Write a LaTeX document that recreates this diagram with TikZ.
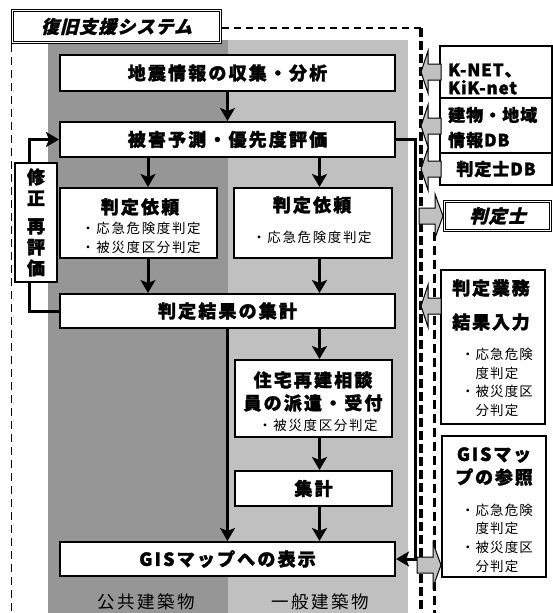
\documentclass[tikz,border=0pt]{standalone}
\usepackage{fontspec}
\setmainfont{Noto Sans CJK JP}[BoldFeatures={FakeBold=1.6}]
\newfontfamily\jpit{Noto Sans CJK JP}[FakeSlant=0.25, BoldFeatures={FakeBold=1.6}]
\usetikzlibrary{arrows.meta}
\definecolor{colA}{RGB}{150,150,150}
\definecolor{colB}{RGB}{192,192,192}
\newcommand{\jpB}{\fontsize{18}{21}\selectfont\bfseries\addfontfeature{LetterSpace=12}}
\newcommand{\jpT}{\jpit\fontsize{18}{21}\selectfont\bfseries\addfontfeature{LetterSpace=6}}
\newcommand{\jpS}{\fontsize{13.5}{19}\selectfont\addfontfeature{LetterSpace=12}}
\newcommand{\jpL}{\fontsize{17.5}{20}\selectfont\addfontfeature{LetterSpace=14}}
\newcommand{\jpK}{\fontsize{17}{18}\selectfont\bfseries\addfontfeature{LetterSpace=5}}
\begin{document}
\begin{tikzpicture}[x=1pt,y=-1pt,
  mainbox/.style={draw, line width=2pt, fill=white, inner sep=0pt},
  sidebox/.style={draw, line width=1.5pt, fill=white, inner sep=0pt},
  dblbox/.style={draw, line width=0.8pt, double=white, double distance=1.6pt, inner sep=0pt},
  arr/.style={line width=3pt, -{Stealth[length=13pt,width=15pt,inset=3pt]}},
  lbl/.style={inner sep=0pt},
  garrowL/.pic={\draw[line width=1pt, fill=colB] (0,0) -- (7,-21) -- (7,-8) -- (20,-8) -- (20,8) -- (7,8) -- (7,21) -- cycle;},
  garrowR/.pic={\draw[line width=1pt, fill=colB] (0,-8) -- (16,-8) -- (16,-22) -- (24,0) -- (16,22) -- (16,8) -- (0,8) -- cycle;}
]
\useasboundingbox (0,0) rectangle (553,613);
% columns
\fill[colA] (48,40) rectangle (228,613);
\fill[colB] (228,40) rectangle (408,613);
% dashed boundaries
\draw[line width=1pt, dash pattern=on 8pt off 5pt] (11,44) -- (11,613);
\draw[line width=1.5pt, dash pattern=on 7pt off 5pt] (222,28) -- (421,28);
\draw[line width=3.2pt, dash pattern=on 9pt off 4pt] (421,28) -- (421,613);
\draw[line width=2.2pt, dash pattern=on 9pt off 5pt] (434.5,232) -- (434.5,613);
% title
\node[dblbox, fill=white, minimum width=208pt, minimum height=32pt, font=\jpT] (title) at (116.5,26.5) {復旧支援システム};
% main flow boxes
\node[mainbox, minimum width=335pt, minimum height=36pt, font=\jpB] (quake) at (227.5,73) {地震情報の収集・分析};
\node[mainbox, minimum width=335pt, minimum height=35pt, font=\jpB] (damage) at (227.5,139.5) {被害予測・優先度評価};
\node[mainbox, minimum width=157pt, minimum height=70pt] (reqL) at (138.5,223) {};
\node[lbl, font=\jpB] (reqLt) at (140,207) {判定依頼};
\node[lbl, font=\jpS, align=left] (reqLs) at (141,237.5) {・応急危険度判定\\・被災度区分判定};
\node[mainbox, minimum width=158pt, minimum height=70pt] (reqR) at (313,223) {};
\node[lbl, font=\jpB] (reqRt) at (312,205) {判定依頼};
\node[lbl, font=\jpS] (reqRs) at (312,237) {・応急危険度判定};
\node[mainbox, minimum width=335pt, minimum height=34pt, font=\jpB] (agg) at (227.5,311) {判定結果の集計};
\node[mainbox, minimum width=157pt, minimum height=77pt] (housing) at (313.5,398.5) {};
\node[lbl, font=\fontsize{18}{23}\selectfont\bfseries\addfontfeature{LetterSpace=12}, align=center] (housingT) at (313,391.5) {住宅再建相談\\員の派遣・受付};
\node[lbl, font=\jpS] (housingS) at (318,425) {・被災度区分判定};
\node[mainbox, minimum width=157pt, minimum height=35pt, font=\jpB] (count) at (313.5,488.5) {集計};
\node[mainbox, minimum width=335pt, minimum height=34pt, font=\jpB] (gis) at (227.5,559) {GISマップへの表示};
% column labels
\node[lbl, font=\jpL] (pubL) at (146,602) {公共建築物};
\node[lbl, font=\jpL] (genL) at (320,602) {一般建築物};
% right boxes
\node[sidebox, minimum width=112pt, minimum height=52pt] (knet) at (496,72) {};
\node[lbl, font=\jpK, align=left, anchor=west] (knetT) at (448,79) {K-NET、\\KiK-net};
\node[sidebox, minimum width=112pt, minimum height=55pt] (bldg) at (496,125.5) {};
\node[lbl, font=\fontsize{17}{25}\selectfont\bfseries\addfontfeature{LetterSpace=6}, align=left, anchor=west] (bldgT) at (448,127.5) {建物・地域\\情報DB};
\node[sidebox, minimum width=112pt, minimum height=32pt, font=\fontsize{17}{20}\selectfont\bfseries\addfontfeature{LetterSpace=6}] (judgedb) at (496,169) {判定士DB};
\node[dblbox, fill=white, minimum width=106pt, minimum height=29pt, font=\jpT] (judge) at (497.5,216) {判定士};
\node[sidebox, minimum width=104pt, minimum height=154pt] (input) at (493,347) {};
\node[lbl, font=\fontsize{18}{34}\selectfont\bfseries\addfontfeature{LetterSpace=10}, align=center] (inputT) at (491,305) {判定業務\\結果入力};
\node[lbl, font=\fontsize{13.5}{18.5}\selectfont\addfontfeature{LetterSpace=8}, align=center] (inputS) at (497,382.5) {・応急危険\\度判定\\・被災度区\\分判定};
\node[sidebox, minimum width=104pt, minimum height=141pt] (refgis) at (494,506.5) {};
\node[lbl, font=\fontsize{18}{23}\selectfont\bfseries\addfontfeature{LetterSpace=10}, align=center] (refT) at (494,466.5) {GISマッ\\プの参照};
\node[lbl, font=\fontsize{13.5}{18.7}\selectfont\addfontfeature{LetterSpace=8}, align=center] (refS) at (497,538) {・応急危険\\度判定\\・被災度区\\分判定};
% helper coordinates
\coordinate (xL) at (148,0);
\coordinate (xR) at (319.5,0);
\coordinate (lb) at (29,311);
\coordinate (lt) at (29,139.5);
\coordinate (rt) at (415,139.5);
\coordinate (rb) at (415,559);
% connectors
\draw[arr] (quake) -- (damage);
\draw[arr] (damage.south -| xL) -- (reqL.north -| xL);
\draw[arr] (reqL.south -| xL) -- (agg.north -| xL);
\draw[arr] (damage.south -| xR) -- (reqR.north -| xR);
\draw[arr] (reqR.south -| xR) -- (agg.north -| xR);
\draw[arr] (agg.south -| xR) -- (housing.north -| xR);
\draw[arr] (housing.south -| xR) -- (count.north -| xR);
\draw[arr] (count.south -| xR) -- (gis.north -| xR);
\draw[arr] (agg) -- (gis);
\draw[arr] (agg.west) -- (lb) -- (lt) -- (damage.west);
\draw[arr] (damage.east) -- (rt) -- (rb) -- (gis.east);
% revise box over loop
\node[mainbox, minimum width=42pt, minimum height=119pt, align=center, font=\fontsize{18}{21}\selectfont\bfseries] (revise) at (36,222.5) {修\\正\\[7pt]再\\評\\価};
% grey block arrows
\pic at (421,72) {garrowL};
\pic at (421,126) {garrowL};
\pic at (421,169) {garrowL};
\pic at (419,216) {garrowR};
\pic at (421,306) {garrowL};
\pic at (417,565) {garrowR};
\end{tikzpicture}
\end{document}
